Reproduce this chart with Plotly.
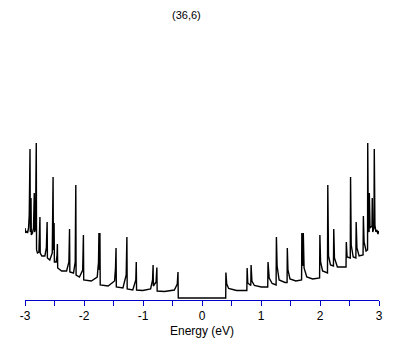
import plotly.graph_objects as go

# Energy (eV) and DOS (arbitrary units)
energy = [
    -3.000, -2.990, -2.973, -2.956, -2.940, -2.928, -2.920, -2.918, -2.915, -2.910,
    -2.898, -2.893, -2.873, -2.856, -2.843, -2.837, -2.822, -2.814, -2.809, -2.804,
    -2.789, -2.764, -2.754, -2.747, -2.742, -2.714, -2.663, -2.638, -2.625, -2.620,
    -2.580, -2.538, -2.524, -2.519, -2.507, -2.502, -2.471, -2.457, -2.451, -2.446,
    -2.379, -2.295, -2.256, -2.245, -2.240, -2.178, -2.149, -2.139, -2.134, -2.077,
    -2.022, -2.010, -2.005, -1.876, -1.776, -1.754, -1.747, -1.739, -1.730, -1.725,
    -1.591, -1.482, -1.466, -1.457, -1.452, -1.340, -1.285, -1.273, -1.268, -1.173,
    -1.122, -1.114, -1.109, -1.005, -0.871, -0.838, -0.829, -0.824, -0.779, -0.765,
    -0.760, -0.637, -0.469, -0.419, -0.407, -0.402,
    0.402, 0.405, 0.419, 0.452, 0.586, 0.760, 0.765, 0.776, 0.827, 0.832,
    0.846, 0.888, 1.005, 1.114, 1.119, 1.139, 1.189, 1.256, 1.261, 1.273,
    1.307, 1.407, 1.442, 1.446, 1.457, 1.491, 1.591, 1.688, 1.692, 1.705,
    1.714, 1.717, 1.730, 1.776, 1.876, 1.993, 1.998, 2.010, 2.044, 2.127,
    2.132, 2.144, 2.178, 2.228, 2.233, 2.245, 2.295, 2.441, 2.446, 2.459,
    2.513, 2.518, 2.529, 2.563, 2.608, 2.613, 2.626, 2.663, 2.730, 2.735,
    2.747, 2.781, 2.806, 2.809, 2.819, 2.832, 2.836, 2.848, 2.881, 2.886,
    2.894, 2.915, 2.920, 2.931, 2.948, 2.965, 2.982, 2.998,
]
dos = [
    0.72, 0.67, 0.69, 0.67, 0.72, 0.85, 1.25, 0.70, 1.51, 0.68,
    1.02, 0.65, 0.67, 0.72, 1.07, 0.68, 0.72, 1.00, 1.57, 0.50,
    0.47, 0.48, 0.60, 0.83, 0.47, 0.44, 0.44, 0.52, 0.78, 0.42,
    0.40, 0.47, 1.23, 0.50, 0.77, 0.38, 0.38, 0.45, 0.56, 0.32,
    0.29, 0.29, 0.38, 0.71, 0.28, 0.27, 0.38, 1.15, 0.25, 0.23,
    0.30, 0.65, 0.20, 0.19, 0.23, 0.38, 0.67, 0.30, 0.67, 0.15,
    0.14, 0.19, 0.32, 0.52, 0.13, 0.12, 0.25, 0.63, 0.11, 0.10,
    0.20, 0.38, 0.10, 0.095, 0.11, 0.20, 0.35, 0.14, 0.18, 0.325,
    0.09, 0.085, 0.10, 0.16, 0.28, 0.02,
    0.02, 0.275, 0.16, 0.115, 0.095, 0.095, 0.32, 0.17, 0.145, 0.35,
    0.19, 0.145, 0.13, 0.13, 0.38, 0.22, 0.165, 0.15, 0.63, 0.34,
    0.20, 0.175, 0.175, 0.52, 0.30, 0.21, 0.19, 0.20, 0.67, 0.34,
    0.38, 0.67, 0.32, 0.23, 0.21, 0.22, 0.65, 0.38, 0.29, 0.27,
    1.15, 0.44, 0.35, 0.34, 0.71, 0.42, 0.33, 0.33, 0.58, 0.43,
    0.42, 1.23, 0.55, 0.43, 0.42, 0.78, 0.52, 0.44, 0.45, 0.84,
    0.58, 0.49, 0.50, 1.57, 0.70, 0.68, 1.07, 0.72, 0.74, 1.02,
    0.68, 0.72, 1.51, 0.75, 0.68, 0.70, 0.66, 0.69,
]

tick_vals = [-3, -2.5, -2, -1.5, -1, -0.5, 0, 0.5, 1, 1.5, 2, 2.5, 3]
tick_text = ["-3", "", "-2", "", "-1", "", "0", "", "1", "", "2", "", "3"]
title_text = "(36,6)"
xlabel = "Energy (eV)"

axis_blue = "#0000C8"
font_family = "Liberation Sans, Arial, sans-serif"

fig = go.Figure()
fig.add_trace(go.Scatter(x=energy, y=dos, mode="lines",
                         line=dict(color="black", width=1.4),
                         hoverinfo="skip", showlegend=False))

fig.update_layout(
    width=401, height=337,
    margin=dict(l=13, r=30, t=12, b=45),
    paper_bgcolor="white", plot_bgcolor="white",
    font=dict(family=font_family, size=12, color="black"),
    xaxis=dict(range=[-3, 3], showgrid=False, zeroline=False,
               showline=True, linecolor=axis_blue, linewidth=1,
               ticks="outside", ticklen=5, tickcolor=axis_blue, tickwidth=1,
               tickmode="array", tickvals=tick_vals, ticktext=tick_text,
               tickfont=dict(size=12, color="black")),
    yaxis=dict(range=[0, 2.8], visible=False),
    annotations=[
        dict(text=title_text, x=0.455, y=1.043, xref="paper", yref="paper",
             showarrow=False, font=dict(size=11, color="black"),
             xanchor="center", yanchor="top", borderpad=0),
        dict(text=xlabel, x=0.5, y=-0.111, xref="paper", yref="paper",
             showarrow=False, font=dict(size=12, color="black"),
             xanchor="center", yanchor="middle"),
    ],
)

fig.write_html("out.html")
